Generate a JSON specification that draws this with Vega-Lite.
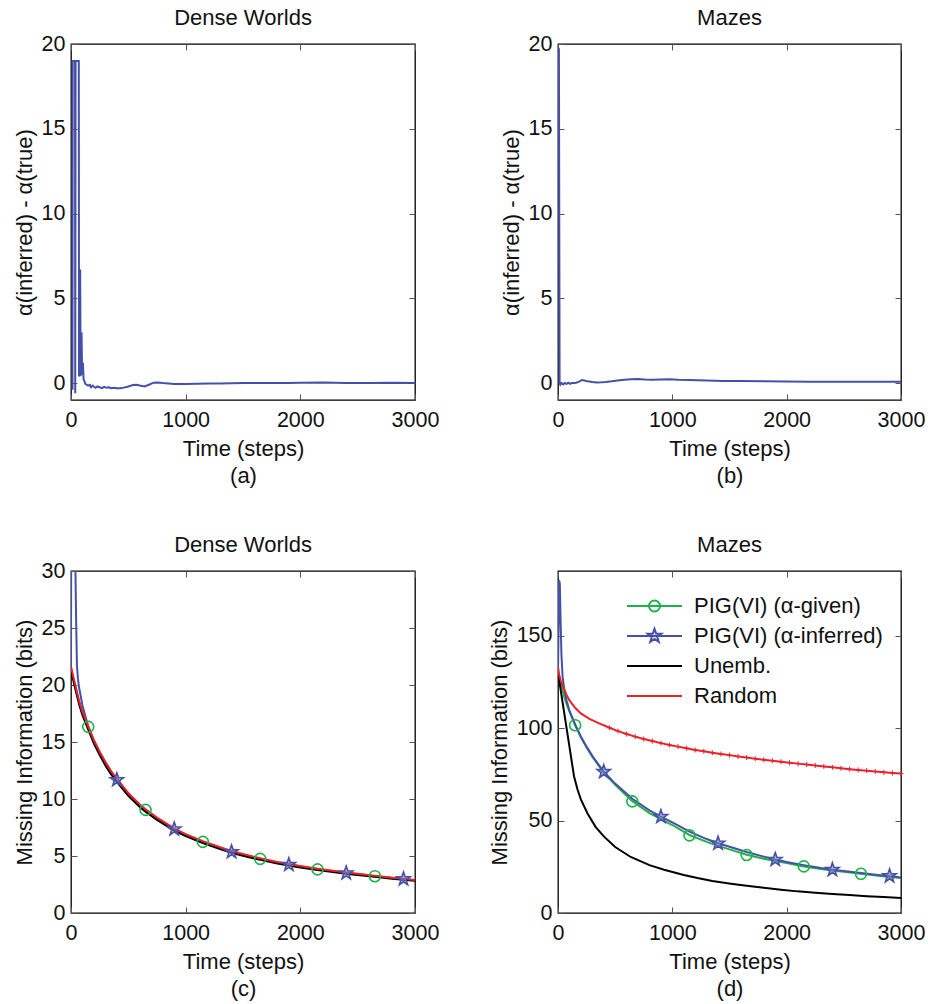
{
  "$schema": "https://vega.github.io/schema/vega-lite/v6.json",
  "background": "white",
  "padding": {"left": 12, "top": 6, "right": 10, "bottom": 10},
  "bounds": "flush",
  "columns": 2,
  "spacing": {"row": 171, "column": 143},
  "resolve": {"scale": {"color": "independent"}, "legend": {"color": "independent"}},
  "config": {
    "font": "Liberation Sans",
    "view": {"stroke": "#000000", "strokeWidth": 1.3},
    "axis": {"grid": false, "domain": false, "labelFlush": false, "tickSize": -6, "tickColor": "#555555", "tickWidth": 1, "labelFontSize": 21.5, "labelColor": "#111111", "titleFontSize": 22, "titleFontWeight": "normal", "titleColor": "#111111", "labelFont": "Liberation Sans", "titleFont": "Liberation Sans"},
    "axisX": {"labelPadding": 15, "titlePadding": 8, "titleLineHeight": 27},
    "axisY": {"labelPadding": 12, "titlePadding": 5},
    "title": {"fontSize": 22, "fontWeight": "normal", "offset": 3, "color": "#111111", "font": "Liberation Sans"}
  },
  "concat": [
    {
      "width": 344, "height": 356,
      "title": "Dense Worlds",
      "data": {"values": [
        {"t":13,"v":-0.4},{"t":15,"v":19},{"t":35,"v":19},{"t":37,"v":-0.6},{"t":40,"v":19},{"t":68,"v":19},{"t":70,"v":0.4},{"t":76,"v":0.5},{"t":80,"v":6.7},{"t":84,"v":0.4},{"t":92,"v":3.0},{"t":97,"v":0.5},{"t":104,"v":1.2},{"t":110,"v":0.2},{"t":118,"v":0.1},{"t":125,"v":-0.05},{"t":135,"v":-0.1},{"t":150,"v":-0.15},{"t":165,"v":-0.1},{"t":175,"v":-0.25},{"t":190,"v":-0.15},{"t":200,"v":-0.22},{"t":215,"v":-0.28},{"t":230,"v":-0.2},{"t":250,"v":-0.25},{"t":270,"v":-0.3},{"t":290,"v":-0.22},{"t":310,"v":-0.28},{"t":330,"v":-0.25},{"t":350,"v":-0.3},{"t":380,"v":-0.28},{"t":400,"v":-0.3},{"t":430,"v":-0.3},{"t":460,"v":-0.27},{"t":500,"v":-0.2},{"t":540,"v":-0.12},{"t":570,"v":-0.1},{"t":600,"v":-0.15},{"t":640,"v":-0.2},{"t":680,"v":-0.1},{"t":720,"v":0.02},{"t":760,"v":0.03},{"t":800,"v":0.0},{"t":850,"v":-0.02},{"t":900,"v":-0.05},{"t":950,"v":-0.06},{"t":1000,"v":-0.06},{"t":1100,"v":-0.04},{"t":1200,"v":-0.03},{"t":1300,"v":-0.02},{"t":1500,"v":0.0},{"t":1700,"v":0.0},{"t":1900,"v":0.01},{"t":2000,"v":0.02},{"t":2200,"v":0.03},{"t":2400,"v":0.01},{"t":2600,"v":0.0},{"t":2800,"v":0.02},{"t":3000,"v":0.0}
      ]},
      "resolve": {"scale": {"x": "independent", "y": "independent"}},
      "layer": [
        {
          "mark": {"type": "line", "color": "#4650a8", "strokeWidth": 2, "clip": true},
          "encoding": {
            "x": {"field": "t", "type": "quantitative", "scale": {"domain": [0, 3000], "nice": false}, "axis": {"orient": "bottom", "values": [0, 1000, 2000, 3000], "format": "d", "title": ["Time (steps)", "(a)"]}},
            "y": {"field": "v", "type": "quantitative", "scale": {"domain": [-1, 20], "nice": false, "zero": false}, "axis": {"orient": "left", "values": [0, 5, 10, 15, 20], "format": "d", "title": "α(inferred) - α(true)"}}
          }
        },
        {
          "mark": {"type": "line", "opacity": 0, "clip": true},
          "encoding": {
            "x": {"field": "t", "type": "quantitative", "scale": {"domain": [0, 3000], "nice": false}, "axis": {"orient": "top", "values": [0, 1000, 2000, 3000], "labels": false, "title": null}},
            "y": {"field": "v", "type": "quantitative", "scale": {"domain": [-1, 20], "nice": false, "zero": false}, "axis": {"orient": "right", "values": [0, 5, 10, 15, 20], "labels": false, "title": null}}
          }
        }
      ]
    },
    {
      "width": 343, "height": 356,
      "title": "Mazes",
      "data": {"values": [
        {"t":0,"v":19.8},{"t":8,"v":19.7},{"t":14,"v":0.0},{"t":20,"v":-0.1},{"t":30,"v":0.0},{"t":45,"v":-0.08},{"t":60,"v":0.0},{"t":75,"v":-0.05},{"t":90,"v":0.02},{"t":105,"v":-0.05},{"t":120,"v":0.0},{"t":140,"v":0.0},{"t":160,"v":0.02},{"t":185,"v":0.08},{"t":210,"v":0.18},{"t":230,"v":0.15},{"t":260,"v":0.1},{"t":300,"v":0.06},{"t":340,"v":0.03},{"t":380,"v":0.04},{"t":420,"v":0.06},{"t":470,"v":0.1},{"t":520,"v":0.15},{"t":580,"v":0.2},{"t":640,"v":0.22},{"t":700,"v":0.24},{"t":760,"v":0.21},{"t":820,"v":0.2},{"t":900,"v":0.21},{"t":980,"v":0.23},{"t":1050,"v":0.2},{"t":1150,"v":0.18},{"t":1300,"v":0.15},{"t":1450,"v":0.12},{"t":1600,"v":0.12},{"t":1800,"v":0.1},{"t":2000,"v":0.09},{"t":2200,"v":0.08},{"t":2400,"v":0.08},{"t":2600,"v":0.07},{"t":2800,"v":0.08},{"t":3000,"v":0.07}
      ]},
      "resolve": {"scale": {"x": "independent", "y": "independent"}},
      "layer": [
        {
          "mark": {"type": "line", "color": "#4650a8", "strokeWidth": 2, "clip": true},
          "encoding": {
            "x": {"field": "t", "type": "quantitative", "scale": {"domain": [0, 3000], "nice": false}, "axis": {"orient": "bottom", "values": [0, 1000, 2000, 3000], "format": "d", "title": ["Time (steps)", "(b)"]}},
            "y": {"field": "v", "type": "quantitative", "scale": {"domain": [-1, 20], "nice": false, "zero": false}, "axis": {"orient": "left", "values": [0, 5, 10, 15, 20], "format": "d", "title": "α(inferred) - α(true)"}}
          }
        },
        {
          "mark": {"type": "line", "opacity": 0, "clip": true},
          "encoding": {
            "x": {"field": "t", "type": "quantitative", "scale": {"domain": [0, 3000], "nice": false}, "axis": {"orient": "top", "values": [0, 1000, 2000, 3000], "labels": false, "title": null}},
            "y": {"field": "v", "type": "quantitative", "scale": {"domain": [-1, 20], "nice": false, "zero": false}, "axis": {"orient": "right", "values": [0, 5, 10, 15, 20], "labels": false, "title": null}}
          }
        }
      ]
    },
    {
      "width": 344, "height": 342,
      "title": "Dense Worlds",
      "data": {"values": [
        {"s":"PIG(VI) (α-given)","t":0,"v":21.5},{"s":"PIG(VI) (α-given)","t":25,"v":20.4},{"s":"PIG(VI) (α-given)","t":50,"v":19.35},{"s":"PIG(VI) (α-given)","t":75,"v":18.35},{"s":"PIG(VI) (α-given)","t":100,"v":17.55},{"s":"PIG(VI) (α-given)","t":150,"v":16.3},{"s":"PIG(VI) (α-given)","t":200,"v":15.05},{"s":"PIG(VI) (α-given)","t":250,"v":14.05},{"s":"PIG(VI) (α-given)","t":300,"v":13.15},{"s":"PIG(VI) (α-given)","t":350,"v":12.35},{"s":"PIG(VI) (α-given)","t":400,"v":11.7},{"s":"PIG(VI) (α-given)","t":500,"v":10.45},{"s":"PIG(VI) (α-given)","t":600,"v":9.45},{"s":"PIG(VI) (α-given)","t":650,"v":9.03},{"s":"PIG(VI) (α-given)","t":750,"v":8.3},{"s":"PIG(VI) (α-given)","t":900,"v":7.35},{"s":"PIG(VI) (α-given)","t":1000,"v":6.85},{"s":"PIG(VI) (α-given)","t":1150,"v":6.23},{"s":"PIG(VI) (α-given)","t":1300,"v":5.7},{"s":"PIG(VI) (α-given)","t":1400,"v":5.38},{"s":"PIG(VI) (α-given)","t":1500,"v":5.1},{"s":"PIG(VI) (α-given)","t":1650,"v":4.74},{"s":"PIG(VI) (α-given)","t":1800,"v":4.42},{"s":"PIG(VI) (α-given)","t":1900,"v":4.24},{"s":"PIG(VI) (α-given)","t":2000,"v":4.07},{"s":"PIG(VI) (α-given)","t":2150,"v":3.84},{"s":"PIG(VI) (α-given)","t":2300,"v":3.63},{"s":"PIG(VI) (α-given)","t":2400,"v":3.5},{"s":"PIG(VI) (α-given)","t":2500,"v":3.39},{"s":"PIG(VI) (α-given)","t":2650,"v":3.22},{"s":"PIG(VI) (α-given)","t":2800,"v":3.06},{"s":"PIG(VI) (α-given)","t":2900,"v":2.96},{"s":"PIG(VI) (α-given)","t":3000,"v":2.86},
        {"s":"PIG(VI) (α-inferred)","t":0,"v":21.6},{"s":"PIG(VI) (α-inferred)","t":3,"v":45},{"s":"PIG(VI) (α-inferred)","t":10,"v":60},{"s":"PIG(VI) (α-inferred)","t":20,"v":48},{"s":"PIG(VI) (α-inferred)","t":30,"v":37},{"s":"PIG(VI) (α-inferred)","t":38,"v":30.5},{"s":"PIG(VI) (α-inferred)","t":45,"v":25.5},{"s":"PIG(VI) (α-inferred)","t":52,"v":21.7},{"s":"PIG(VI) (α-inferred)","t":60,"v":20.6},{"s":"PIG(VI) (α-inferred)","t":70,"v":19.8},{"s":"PIG(VI) (α-inferred)","t":100,"v":18.2},{"s":"PIG(VI) (α-inferred)","t":130,"v":17.1},{"s":"PIG(VI) (α-inferred)","t":150,"v":16.4},{"s":"PIG(VI) (α-inferred)","t":200,"v":15.1},{"s":"PIG(VI) (α-inferred)","t":250,"v":14.1},{"s":"PIG(VI) (α-inferred)","t":300,"v":13.2},{"s":"PIG(VI) (α-inferred)","t":350,"v":12.35},{"s":"PIG(VI) (α-inferred)","t":400,"v":11.68},{"s":"PIG(VI) (α-inferred)","t":500,"v":10.45},{"s":"PIG(VI) (α-inferred)","t":600,"v":9.45},{"s":"PIG(VI) (α-inferred)","t":650,"v":9.03},{"s":"PIG(VI) (α-inferred)","t":750,"v":8.32},{"s":"PIG(VI) (α-inferred)","t":900,"v":7.36},{"s":"PIG(VI) (α-inferred)","t":1000,"v":6.87},{"s":"PIG(VI) (α-inferred)","t":1150,"v":6.25},{"s":"PIG(VI) (α-inferred)","t":1300,"v":5.72},{"s":"PIG(VI) (α-inferred)","t":1400,"v":5.38},{"s":"PIG(VI) (α-inferred)","t":1500,"v":5.12},{"s":"PIG(VI) (α-inferred)","t":1650,"v":4.76},{"s":"PIG(VI) (α-inferred)","t":1800,"v":4.43},{"s":"PIG(VI) (α-inferred)","t":1900,"v":4.25},{"s":"PIG(VI) (α-inferred)","t":2000,"v":4.08},{"s":"PIG(VI) (α-inferred)","t":2150,"v":3.85},{"s":"PIG(VI) (α-inferred)","t":2300,"v":3.64},{"s":"PIG(VI) (α-inferred)","t":2400,"v":3.51},{"s":"PIG(VI) (α-inferred)","t":2500,"v":3.4},{"s":"PIG(VI) (α-inferred)","t":2650,"v":3.23},{"s":"PIG(VI) (α-inferred)","t":2800,"v":3.07},{"s":"PIG(VI) (α-inferred)","t":2900,"v":2.97},{"s":"PIG(VI) (α-inferred)","t":3000,"v":2.87},
        {"s":"Unemb.","t":0,"v":21.3},{"s":"Unemb.","t":25,"v":20.2},{"s":"Unemb.","t":50,"v":19.15},{"s":"Unemb.","t":75,"v":18.15},{"s":"Unemb.","t":100,"v":17.35},{"s":"Unemb.","t":150,"v":16.1},{"s":"Unemb.","t":200,"v":14.85},{"s":"Unemb.","t":250,"v":13.85},{"s":"Unemb.","t":300,"v":12.95},{"s":"Unemb.","t":350,"v":12.15},{"s":"Unemb.","t":400,"v":11.5},{"s":"Unemb.","t":500,"v":10.28},{"s":"Unemb.","t":600,"v":9.3},{"s":"Unemb.","t":650,"v":8.88},{"s":"Unemb.","t":750,"v":8.17},{"s":"Unemb.","t":900,"v":7.22},{"s":"Unemb.","t":1000,"v":6.74},{"s":"Unemb.","t":1150,"v":6.13},{"s":"Unemb.","t":1300,"v":5.61},{"s":"Unemb.","t":1400,"v":5.29},{"s":"Unemb.","t":1500,"v":5.02},{"s":"Unemb.","t":1650,"v":4.66},{"s":"Unemb.","t":1800,"v":4.35},{"s":"Unemb.","t":1900,"v":4.17},{"s":"Unemb.","t":2000,"v":4.0},{"s":"Unemb.","t":2150,"v":3.78},{"s":"Unemb.","t":2300,"v":3.57},{"s":"Unemb.","t":2400,"v":3.45},{"s":"Unemb.","t":2500,"v":3.34},{"s":"Unemb.","t":2650,"v":3.17},{"s":"Unemb.","t":2800,"v":3.01},{"s":"Unemb.","t":2900,"v":2.92},{"s":"Unemb.","t":3000,"v":2.82},
        {"s":"Random","t":0,"v":21.6},{"s":"Random","t":25,"v":20.5},{"s":"Random","t":50,"v":19.45},{"s":"Random","t":75,"v":18.45},{"s":"Random","t":100,"v":17.65},{"s":"Random","t":150,"v":16.38},{"s":"Random","t":200,"v":15.15},{"s":"Random","t":250,"v":14.15},{"s":"Random","t":300,"v":13.25},{"s":"Random","t":350,"v":12.45},{"s":"Random","t":400,"v":11.78},{"s":"Random","t":500,"v":10.52},{"s":"Random","t":600,"v":9.52},{"s":"Random","t":650,"v":9.1},{"s":"Random","t":750,"v":8.37},{"s":"Random","t":900,"v":7.42},{"s":"Random","t":1000,"v":6.92},{"s":"Random","t":1150,"v":6.3},{"s":"Random","t":1300,"v":5.77},{"s":"Random","t":1400,"v":5.44},{"s":"Random","t":1500,"v":5.17},{"s":"Random","t":1650,"v":4.8},{"s":"Random","t":1800,"v":4.47},{"s":"Random","t":1900,"v":4.29},{"s":"Random","t":2000,"v":4.12},{"s":"Random","t":2150,"v":3.89},{"s":"Random","t":2300,"v":3.68},{"s":"Random","t":2400,"v":3.55},{"s":"Random","t":2500,"v":3.44},{"s":"Random","t":2650,"v":3.27},{"s":"Random","t":2800,"v":3.1},{"s":"Random","t":2900,"v":3.0},{"s":"Random","t":3000,"v":2.9}
      ]},
      "resolve": {"scale": {"x": "independent", "y": "independent"}},
      "layer": [
        {
          "mark": {"type": "line", "strokeWidth": 2, "clip": true},
          "encoding": {
            "x": {"field": "t", "type": "quantitative", "scale": {"domain": [0, 3000], "nice": false}, "axis": {"orient": "bottom", "values": [0, 1000, 2000, 3000], "format": "d", "title": ["Time (steps)", "(c)"]}},
            "y": {"field": "v", "type": "quantitative", "scale": {"domain": [0, 30], "nice": false}, "axis": {"orient": "left", "values": [0, 5, 10, 15, 20, 25, 30], "format": "d", "title": "Missing Information (bits)"}},
            "color": {"field": "s", "type": "nominal", "scale": {"domain": ["PIG(VI) (α-given)", "PIG(VI) (α-inferred)", "Unemb.", "Random"], "range": ["#1fb24b", "#4650a8", "#000000", "#e8232b"]}, "legend": null}
          }
        },
        {
          "mark": {"type": "line", "opacity": 0, "clip": true},
          "encoding": {
            "x": {"field": "t", "type": "quantitative", "scale": {"domain": [0, 3000], "nice": false}, "axis": {"orient": "top", "values": [0, 1000, 2000, 3000], "labels": false, "title": null}},
            "y": {"field": "v", "type": "quantitative", "scale": {"domain": [0, 30], "nice": false}, "axis": {"orient": "right", "values": [0, 5, 10, 15, 20, 25, 30], "labels": false, "title": null}},
            "detail": {"field": "s"}
          }
        },
        {
          "data": {"values": [{"t":150,"v":16.33},{"t":650,"v":9.05},{"t":1150,"v":6.24},{"t":1650,"v":4.75},{"t":2150,"v":3.83},{"t":2650,"v":3.23}]},
          "mark": {"type": "point", "shape": "circle", "filled": false, "size": 121, "strokeWidth": 1.6, "color": "#1fb24b", "opacity": 1},
          "encoding": {
            "x": {"field": "t", "type": "quantitative", "scale": {"domain": [0, 3000], "nice": false}, "axis": null},
            "y": {"field": "v", "type": "quantitative", "scale": {"domain": [0, 30], "nice": false}, "axis": null}
          }
        },
        {
          "data": {"values": [{"t":400,"v":11.68},{"t":900,"v":7.36},{"t":1400,"v":5.36},{"t":1900,"v":4.24},{"t":2400,"v":3.5},{"t":2900,"v":2.98}]},
          "mark": {"type": "point", "shape": "M0,-1L0.235,-0.324L0.951,-0.309L0.38,0.124L0.588,0.809L0,0.4L-0.588,0.809L-0.38,0.124L-0.951,-0.309L-0.235,-0.324Z", "filled": false, "size": 196, "strokeWidth": 1.6, "color": "#4650a8", "fill": "#7a82c4", "fillOpacity": 0.6, "opacity": 1},
          "encoding": {
            "x": {"field": "t", "type": "quantitative", "scale": {"domain": [0, 3000], "nice": false}, "axis": null},
            "y": {"field": "v", "type": "quantitative", "scale": {"domain": [0, 30], "nice": false}, "axis": null}
          }
        }
      ]
    },
    {
      "width": 343, "height": 342,
      "title": {"text": "Mazes", "offset": 14},
      "data": {"values": [
        {"s":"PIG(VI) (α-given)","t":0,"v":130},{"s":"PIG(VI) (α-given)","t":25,"v":124},{"s":"PIG(VI) (α-given)","t":50,"v":118},{"s":"PIG(VI) (α-given)","t":75,"v":113},{"s":"PIG(VI) (α-given)","t":100,"v":109},{"s":"PIG(VI) (α-given)","t":150,"v":101.5},{"s":"PIG(VI) (α-given)","t":200,"v":95},{"s":"PIG(VI) (α-given)","t":250,"v":89.5},{"s":"PIG(VI) (α-given)","t":300,"v":84.5},{"s":"PIG(VI) (α-given)","t":400,"v":76},{"s":"PIG(VI) (α-given)","t":500,"v":69.3},{"s":"PIG(VI) (α-given)","t":650,"v":60.5},{"s":"PIG(VI) (α-given)","t":800,"v":54},{"s":"PIG(VI) (α-given)","t":900,"v":50.8},{"s":"PIG(VI) (α-given)","t":1000,"v":47.6},{"s":"PIG(VI) (α-given)","t":1150,"v":42.2},{"s":"PIG(VI) (α-given)","t":1300,"v":38.5},{"s":"PIG(VI) (α-given)","t":1400,"v":36.3},{"s":"PIG(VI) (α-given)","t":1500,"v":34.4},{"s":"PIG(VI) (α-given)","t":1650,"v":31.5},{"s":"PIG(VI) (α-given)","t":1800,"v":29.4},{"s":"PIG(VI) (α-given)","t":1900,"v":28.1},{"s":"PIG(VI) (α-given)","t":2000,"v":27},{"s":"PIG(VI) (α-given)","t":2150,"v":25.2},{"s":"PIG(VI) (α-given)","t":2300,"v":23.8},{"s":"PIG(VI) (α-given)","t":2400,"v":23},{"s":"PIG(VI) (α-given)","t":2500,"v":22.3},{"s":"PIG(VI) (α-given)","t":2650,"v":21.2},{"s":"PIG(VI) (α-given)","t":2800,"v":20.1},{"s":"PIG(VI) (α-given)","t":2900,"v":19.5},{"s":"PIG(VI) (α-given)","t":3000,"v":18.9},
        {"s":"PIG(VI) (α-inferred)","t":0,"v":130},{"s":"PIG(VI) (α-inferred)","t":4,"v":150},{"s":"PIG(VI) (α-inferred)","t":10,"v":180},{"s":"PIG(VI) (α-inferred)","t":16,"v":178},{"s":"PIG(VI) (α-inferred)","t":22,"v":160},{"s":"PIG(VI) (α-inferred)","t":30,"v":140},{"s":"PIG(VI) (α-inferred)","t":40,"v":128},{"s":"PIG(VI) (α-inferred)","t":55,"v":121},{"s":"PIG(VI) (α-inferred)","t":75,"v":115},{"s":"PIG(VI) (α-inferred)","t":100,"v":109.5},{"s":"PIG(VI) (α-inferred)","t":150,"v":102},{"s":"PIG(VI) (α-inferred)","t":200,"v":95.5},{"s":"PIG(VI) (α-inferred)","t":250,"v":90},{"s":"PIG(VI) (α-inferred)","t":300,"v":85},{"s":"PIG(VI) (α-inferred)","t":400,"v":76.4},{"s":"PIG(VI) (α-inferred)","t":500,"v":70},{"s":"PIG(VI) (α-inferred)","t":650,"v":61.8},{"s":"PIG(VI) (α-inferred)","t":800,"v":55.5},{"s":"PIG(VI) (α-inferred)","t":900,"v":52.1},{"s":"PIG(VI) (α-inferred)","t":1000,"v":49},{"s":"PIG(VI) (α-inferred)","t":1150,"v":44},{"s":"PIG(VI) (α-inferred)","t":1300,"v":40},{"s":"PIG(VI) (α-inferred)","t":1400,"v":37.7},{"s":"PIG(VI) (α-inferred)","t":1500,"v":35.8},{"s":"PIG(VI) (α-inferred)","t":1650,"v":33},{"s":"PIG(VI) (α-inferred)","t":1800,"v":30.5},{"s":"PIG(VI) (α-inferred)","t":1900,"v":28.9},{"s":"PIG(VI) (α-inferred)","t":2000,"v":27.6},{"s":"PIG(VI) (α-inferred)","t":2150,"v":25.9},{"s":"PIG(VI) (α-inferred)","t":2300,"v":24.3},{"s":"PIG(VI) (α-inferred)","t":2400,"v":23.4},{"s":"PIG(VI) (α-inferred)","t":2500,"v":22.7},{"s":"PIG(VI) (α-inferred)","t":2650,"v":21.6},{"s":"PIG(VI) (α-inferred)","t":2800,"v":20.6},{"s":"PIG(VI) (α-inferred)","t":2900,"v":20.0},{"s":"PIG(VI) (α-inferred)","t":3000,"v":19.2},
        {"s":"Unemb.","t":0,"v":130},{"s":"Unemb.","t":70,"v":102},{"s":"Unemb.","t":140,"v":74},{"s":"Unemb.","t":170,"v":66.9},{"s":"Unemb.","t":200,"v":61.5},{"s":"Unemb.","t":257,"v":54},{"s":"Unemb.","t":330,"v":46.5},{"s":"Unemb.","t":403,"v":41.3},{"s":"Unemb.","t":500,"v":35.7},{"s":"Unemb.","t":636,"v":30.3},{"s":"Unemb.","t":800,"v":25.9},{"s":"Unemb.","t":928,"v":23.4},{"s":"Unemb.","t":1100,"v":20.6},{"s":"Unemb.","t":1220,"v":18.9},{"s":"Unemb.","t":1350,"v":17.3},{"s":"Unemb.","t":1512,"v":15.8},{"s":"Unemb.","t":1650,"v":14.7},{"s":"Unemb.","t":1800,"v":13.6},{"s":"Unemb.","t":1950,"v":12.6},{"s":"Unemb.","t":2095,"v":11.7},{"s":"Unemb.","t":2250,"v":11},{"s":"Unemb.","t":2400,"v":10.3},{"s":"Unemb.","t":2550,"v":9.7},{"s":"Unemb.","t":2700,"v":9.1},{"s":"Unemb.","t":2850,"v":8.6},{"s":"Unemb.","t":3000,"v":8.1},
        {"s":"Random","t":0,"v":133},{"s":"Random","t":10,"v":129},{"s":"Random","t":25,"v":125.5},{"s":"Random","t":50,"v":121.5},{"s":"Random","t":75,"v":118},{"s":"Random","t":100,"v":115},{"s":"Random","t":150,"v":111},{"s":"Random","t":200,"v":108},{"s":"Random","t":275,"v":105},{"s":"Random","t":350,"v":102.8},{"s":"Random","t":450,"v":100.2},{"s":"Random","t":525,"v":98.4},{"s":"Random","t":600,"v":96.8},{"s":"Random","t":675,"v":95.4},{"s":"Random","t":750,"v":94.1},{"s":"Random","t":825,"v":93.0},{"s":"Random","t":900,"v":91.9},{"s":"Random","t":975,"v":90.9},{"s":"Random","t":1050,"v":90.0},{"s":"Random","t":1125,"v":89.1},{"s":"Random","t":1200,"v":88.2},{"s":"Random","t":1275,"v":87.5},{"s":"Random","t":1350,"v":86.7},{"s":"Random","t":1425,"v":86.0},{"s":"Random","t":1500,"v":85.4},{"s":"Random","t":1575,"v":84.7},{"s":"Random","t":1650,"v":84.1},{"s":"Random","t":1725,"v":83.5},{"s":"Random","t":1800,"v":82.9},{"s":"Random","t":1875,"v":82.4},{"s":"Random","t":1950,"v":81.8},{"s":"Random","t":2025,"v":81.3},{"s":"Random","t":2100,"v":80.8},{"s":"Random","t":2175,"v":80.3},{"s":"Random","t":2250,"v":79.8},{"s":"Random","t":2325,"v":79.3},{"s":"Random","t":2400,"v":78.8},{"s":"Random","t":2475,"v":78.3},{"s":"Random","t":2550,"v":77.8},{"s":"Random","t":2625,"v":77.4},{"s":"Random","t":2700,"v":77.0},{"s":"Random","t":2775,"v":76.5},{"s":"Random","t":2850,"v":76.1},{"s":"Random","t":2925,"v":75.7},{"s":"Random","t":3000,"v":75.4}
      ]},
      "resolve": {"scale": {"x": "independent", "y": "independent"}},
      "layer": [
        {
          "mark": {"type": "line", "strokeWidth": 2, "clip": true},
          "encoding": {
            "x": {"field": "t", "type": "quantitative", "scale": {"domain": [0, 3000], "nice": false}, "axis": {"orient": "bottom", "values": [0, 1000, 2000, 3000], "format": "d", "title": ["Time (steps)", "(d)"]}},
            "y": {"field": "v", "type": "quantitative", "scale": {"domain": [0, 185], "nice": false}, "axis": {"orient": "left", "values": [0, 50, 100, 150], "format": "d", "title": "Missing Information (bits)"}},
            "color": {"field": "s", "type": "nominal", "scale": {"domain": ["PIG(VI) (α-given)", "PIG(VI) (α-inferred)", "Unemb.", "Random"], "range": ["#1fb24b", "#4650a8", "#000000", "#e8232b"]},
              "legend": {
                "orient": "none", "legendX": 84.5, "legendY": 23, "title": null, "padding": 0,
                "symbolSize": 484, "labelOffset": 27.5, "rowPadding": 7, "labelFontSize": 22, "labelColor": "#111111", "labelFont": "Liberation Sans", "labelLimit": 400,
                "encode": {"symbols": {"update": {
                  "shape": {"signal": "indexof(datum.value,'given')>=0 ? 'M-2.5,0H2.5M-0.5,0A0.5,0.5,0,1,0,0.5,0A0.5,0.5,0,1,0,-0.5,0' : (indexof(datum.value,'inferred')>=0 ? 'M-2.5,0H2.5M0,-0.65L0.153,-0.21L0.618,-0.201L0.247,0.08L0.382,0.526L0,0.26L-0.382,0.526L-0.247,0.08L-0.618,-0.201L-0.153,-0.21Z' : 'M-2.5,0H2.5')"},
                  "stroke": {"signal": "indexof(datum.value,'given')>=0 ? '#1fb24b' : (indexof(datum.value,'inferred')>=0 ? '#4650a8' : (datum.value==='Random' ? '#e8232b' : '#000000'))"},
                  "fill": {"value": "transparent"},
                  "strokeWidth": {"value": 2},
                  "opacity": {"value": 1}
                }}}
              }
            }
          }
        },
        {
          "mark": {"type": "line", "opacity": 0, "clip": true},
          "encoding": {
            "x": {"field": "t", "type": "quantitative", "scale": {"domain": [0, 3000], "nice": false}, "axis": {"orient": "top", "values": [0, 1000, 2000, 3000], "labels": false, "title": null}},
            "y": {"field": "v", "type": "quantitative", "scale": {"domain": [0, 185], "nice": false}, "axis": {"orient": "right", "values": [0, 50, 100, 150], "labels": false, "title": null}},
            "detail": {"field": "s"}
          }
        },
        {
          "transform": [{"filter": "datum.s === 'Random' && datum.t >= 450"}],
          "mark": {"type": "point", "shape": "M-1,0H1M0,-1V1", "filled": false, "size": 25, "strokeWidth": 1, "color": "#e8232b", "opacity": 1},
          "encoding": {
            "x": {"field": "t", "type": "quantitative", "scale": {"domain": [0, 3000], "nice": false}, "axis": null},
            "y": {"field": "v", "type": "quantitative", "scale": {"domain": [0, 185], "nice": false}, "axis": null}
          }
        },
        {
          "data": {"values": [{"t":150,"v":101.6},{"t":650,"v":60.4},{"t":1150,"v":42.0},{"t":1650,"v":31.4},{"t":2150,"v":25.2},{"t":2650,"v":21.2}]},
          "mark": {"type": "point", "shape": "circle", "filled": false, "size": 121, "strokeWidth": 1.6, "color": "#1fb24b", "opacity": 1},
          "encoding": {
            "x": {"field": "t", "type": "quantitative", "scale": {"domain": [0, 3000], "nice": false}, "axis": null},
            "y": {"field": "v", "type": "quantitative", "scale": {"domain": [0, 185], "nice": false}, "axis": null}
          }
        },
        {
          "data": {"values": [{"t":400,"v":76.4},{"t":900,"v":52.1},{"t":1400,"v":37.7},{"t":1900,"v":28.9},{"t":2400,"v":23.4},{"t":2900,"v":20.0}]},
          "mark": {"type": "point", "shape": "M0,-1L0.235,-0.324L0.951,-0.309L0.38,0.124L0.588,0.809L0,0.4L-0.588,0.809L-0.38,0.124L-0.951,-0.309L-0.235,-0.324Z", "filled": false, "size": 196, "strokeWidth": 1.6, "color": "#4650a8", "fill": "#7a82c4", "fillOpacity": 0.6, "opacity": 1},
          "encoding": {
            "x": {"field": "t", "type": "quantitative", "scale": {"domain": [0, 3000], "nice": false}, "axis": null},
            "y": {"field": "v", "type": "quantitative", "scale": {"domain": [0, 185], "nice": false}, "axis": null}
          }
        }
      ]
    }
  ]
}
